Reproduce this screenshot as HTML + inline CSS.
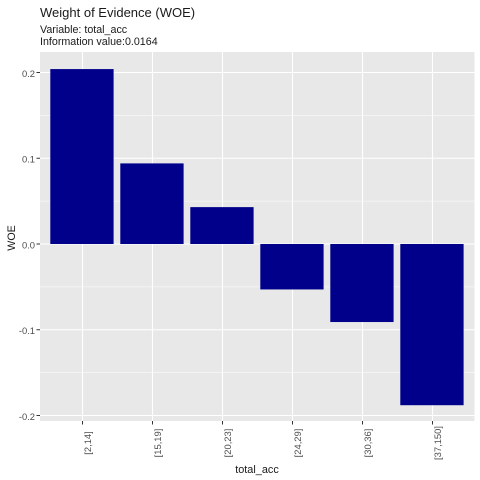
<!DOCTYPE html>
<html>
<head>
<meta charset="utf-8">
<title>Weight of Evidence (WOE)</title>
<style>
html,body{margin:0;padding:0;background:#fff;width:480px;height:480px;overflow:hidden}
svg{display:block}
text{font-family:"Liberation Sans",Arial,sans-serif}
</style>
</head>
<body>
<svg id="chart" xmlns="http://www.w3.org/2000/svg" width="480" height="480" viewBox="0 0 480 480">
<rect x="0" y="0" width="480" height="480" fill="#ffffff"/>
<rect x="40" y="52" width="434.5" height="369" fill="#e8e8e8"/>
<g id="grid"></g>
<g id="bars"></g>
<g id="axes"></g>
<text x="40" y="17" font-size="13" fill="#1a1a1a">Weight of Evidence (WOE)</text>
<text x="40" y="33" font-size="10.7" fill="#1a1a1a">Variable: total_acc</text>
<text x="40" y="45" font-size="10.7" fill="#1a1a1a">Information value:0.0164</text>
<text x="257" y="473" font-size="10.9" fill="#1a1a1a" text-anchor="middle">total_acc</text>
<text x="0" y="0" transform="translate(15 238) rotate(-90)" font-size="10.7" fill="#1a1a1a" text-anchor="middle">WOE</text>
</svg>
<script>
const categories = ["[2,14]", "[15,19]", "[20,23]", "[24,29]", "[30,36]", "[37,150]"];
const woeValues = [0.204, 0.094, 0.043, -0.053, -0.091, -0.188];
const yTicks = [-0.2, -0.1, 0.0, 0.1, 0.2];
const yMinorTicks = [-0.15, -0.05, 0.05, 0.15];

const NS = "http://www.w3.org/2000/svg";
const panelLeft = 40.5, panelRight = 474.5, panelTop = 52, panelBottom = 421;
const zeroY = 244, pxPerUnit = 857.5;
const bandStep = (panelRight - panelLeft) / (categories.length - 1 + 1.2);
function yScale(v) { return zeroY - v * pxPerUnit; }
function xScale(i) { return panelLeft + bandStep * (0.6 + i); }
function mk(tag, attrs, parent) {
  const el = document.createElementNS(NS, tag);
  for (const k in attrs) el.setAttribute(k, attrs[k]);
  parent.appendChild(el);
  return el;
}
const gridG = document.getElementById("grid");
const barsG = document.getElementById("bars");
const axesG = document.getElementById("axes");

yMinorTicks.forEach(function (v) {
  const l = mk("line", {x1: panelLeft - 0.5, x2: panelRight, y1: yScale(v), y2: yScale(v), stroke: "#ffffff", "stroke-width": 0.6}, gridG);
  
  
});
yTicks.forEach(function (v) {
  const y = yScale(v);
  const l = mk("line", {x1: panelLeft - 0.5, x2: panelRight, y1: y, y2: y, stroke: "#ffffff", "stroke-width": 1.1}, gridG);
  
  
  const t = mk("line", {x1: 36.5, x2: 40, y1: y, y2: y, stroke: "#333333", "stroke-width": 1}, axesG);
  
  
  const lab = mk("text", {x: 35, y: y + 4.4, "font-size": 9.4, fill: "#4d4d4d", "text-anchor": "end"}, axesG);
  lab.textContent = v.toFixed(1);
  
  
});
categories.forEach(function (c, i) {
  const x = xScale(i);
  const g = mk("line", {x1: x, x2: x, y1: panelTop, y2: panelBottom, stroke: "#ffffff", "stroke-width": 1.1}, gridG);
  
  
  const t = mk("line", {x1: x, x2: x, y1: 421, y2: 424.5, stroke: "#333333", "stroke-width": 1}, axesG);
  
  
  const lab = mk("text", {x: 0, y: 0, transform: "translate(" + (x + 8.5) + " 443) rotate(-90)", "font-size": 9.4, fill: "#4d4d4d", "text-anchor": "middle"}, axesG);
  lab.textContent = c;
  
  
});
woeValues.forEach(function (v, i) {
  const w = bandStep * 0.9;
  const y0 = yScale(Math.max(v, 0)), y1 = yScale(Math.min(v, 0));
  const b = mk("rect", {x: xScale(i) - w / 2 - 0.7, y: y0, width: w + 0.3, height: y1 - y0, fill: "#00008b"}, barsG);
  
  
});
</script>
</body>
</html>
